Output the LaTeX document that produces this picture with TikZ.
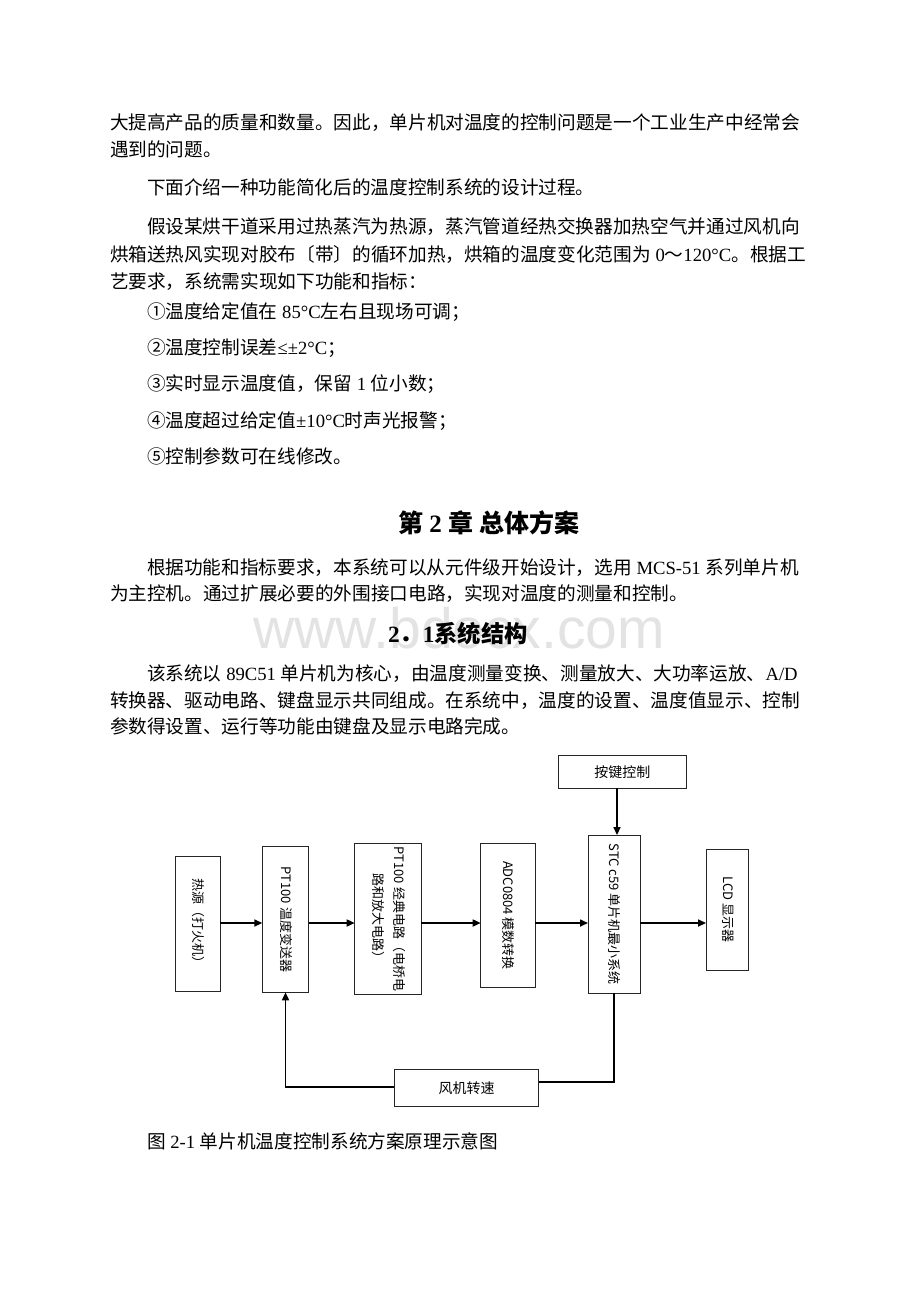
\documentclass[tikz,border=0pt]{standalone}
\usepackage{fontspec}
\usepackage{graphicx}
\usetikzlibrary{arrows.meta}
\setmainfont{Liberation Serif}
\newfontfamily\cjk{Noto Sans CJK SC}
\newfontfamily\wmfont{Liberation Sans}
\newcommand\lat[1]{{\rmfamily #1}}
\newcommand\bodysize{\fontsize{18.65}{22}\selectfont}
\newcommand\vlab[1]{\rotatebox{-90}{\begin{tabular}{@{}c@{}}#1\end{tabular}}}
\tikzset{
  txt/.style={anchor=base west, inner sep=0pt, outer sep=0pt, font=\bodysize\cjk},
  boxnode/.style={draw=black!85, line width=0.9pt, inner sep=0pt, outer sep=0pt,
    font=\fontsize{13}{21}\selectfont\cjk},
  arr/.style={line width=1.6pt, -{Triangle[length=8pt,width=7pt]}},
  fbline/.style={line width=1.6pt}
}
\begin{document}
\begin{tikzpicture}[x=1pt,y=-1pt]
\fill[white] (0,0) rectangle (920,1302);
\useasboundingbox (0,0) rectangle (920,1302);

% watermark
\node[anchor=base west, inner sep=0pt, font=\fontsize{57}{60}\selectfont\wmfont, text=black!11] (wm) at (253,648) {www.bdocx.com};

% body text
\node[txt] (l1) at (110,129) {大提高产品的质量和数量。因此，单片机对温度的控制问题是一个工业生产中经常会};
\node[txt] (l2) at (110,156) {遇到的问题。};
\node[txt] (l3) at (147,194) {下面介绍一种功能简化后的温度控制系统的设计过程。};
\node[txt] (l4) at (147,233) {假设某烘干道采用过热蒸汽为热源，蒸汽管道经热交换器加热空气并通过风机向};
\node[txt] (l5) at (110,261) {烘箱送热风实现对胶布〔带〕的循环加热，烘箱的温度变化范围为\lat{ 0}～\lat{120°C}。根据工};
\node[txt] (l6) at (110,288) {艺要求，系统需实现如下功能和指标：};
\node[txt] (l7) at (147,318) {①温度给定值在\lat{ 85°C}左右且现场可调；};
\node[txt] (l8) at (147,354) {②温度控制误差\lat{≤±2°C}；};
\node[txt] (l9) at (147,390) {③实时显示温度值，保留\lat{ 1 }位小数；};
\node[txt] (l10) at (147,427) {④温度超过给定值\lat{±10°C}时声光报警；};
\node[txt] (l11) at (147,463) {⑤控制参数可在线修改。};

\node[txt, font=\fontsize{25}{28}\selectfont\cjk\bfseries] (h1) at (398,532.5) {第\lat{ 2 }章\lat{ }总体方案};

\node[txt] (l12) at (147,574) {根据功能和指标要求，本系统可以从元件级开始设计，选用\lat{ MCS-51 }系列单片机};
\node[txt] (l13) at (110,600) {为主控机。通过扩展必要的外围接口电路，实现对温度的测量和控制。};

\node[txt, font=\fontsize{23.3}{26}\selectfont\cjk\bfseries] (h2) at (388,642) {\lat{2}．\lat{1}系统结构};

\node[txt] (l14) at (147,680) {该系统以\lat{ 89C51 }单片机为核心，由温度测量变换、测量放大、大功率运放、\lat{A/D}};
\node[txt] (l15) at (110,707) {转换器、驱动电路、键盘显示共同组成。在系统中，温度的设置、温度值显示、控制};
\node[txt] (l16) at (110,733) {参数得设置、运行等功能由键盘及显示电路完成。};

\node[txt] (cap) at (147,1148) {图\lat{ 2-1 }单片机温度控制系统方案原理示意图};

% diagram boxes
\node[boxnode, minimum width=127.3pt, minimum height=32.6pt, font=\fontsize{14}{21}\selectfont\cjk] (key) at (622.3,772) {按键控制};
\node[boxnode, minimum width=45pt, minimum height=135pt] (src) at (197.5,923.5) {\vlab{热源（打火机）}};
\node[boxnode, minimum width=46.4pt, minimum height=145.6pt] (pt) at (285.5,919.5) {\vlab{PT100 温度变送器}};
\node[boxnode, minimum width=66.6pt, minimum height=150.6pt] (amp) at (388,919) {\vlab{PT100 经典电路（电桥电\\路和放大电路）}};
\node[boxnode, minimum width=54.6pt, minimum height=143.6pt] (adc) at (508,915.5) {\vlab{ADC0804 模数转换}};
\node[boxnode, minimum width=52pt, minimum height=158.3pt] (mcu) at (614,914.2) {\vlab{STC c59 单片机最小系统}};
\node[boxnode, minimum width=42.3pt, minimum height=120.7pt] (lcd) at (727.2,909.7) {\vlab{LCD 显示器}};
\node[boxnode, minimum width=144.4pt, minimum height=36.7pt, font=\fontsize{14}{21}\selectfont\cjk] (fan) at (466.5,1087.7) {风机转速};

% connectors
\coordinate (row) at (0,923);
\coordinate (kx) at (617,0);
\coordinate (fr) at (0,1082);
\coordinate (fl) at (0,1087);
\draw[arr] (src.east |- row) -- (pt.west |- row);
\draw[arr] (pt.east |- row) -- (amp.west |- row);
\draw[arr] (amp.east |- row) -- (adc.west |- row);
\draw[arr] (adc.east |- row) -- (mcu.west |- row);
\draw[arr] (mcu.east |- row) -- (lcd.west |- row);
\draw[arr] (kx |- key.south) -- (kx |- mcu.north);
\draw[fbline] (mcu.south) -- (mcu.south |- fr) -- (fan.east |- fr);
\draw[arr] (fan.west |- fl) -| (pt.south);
\end{tikzpicture}
\end{document}
